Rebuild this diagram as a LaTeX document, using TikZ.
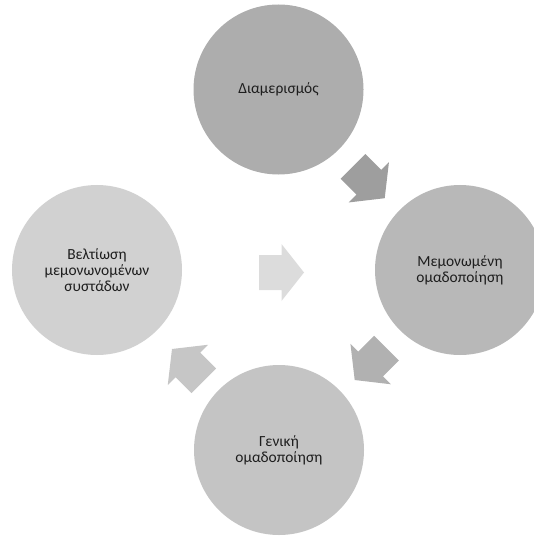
\documentclass[tikz,border=0pt]{standalone}
\usepackage{fontspec}
\setmainfont{Carlito}
\definecolor{ctop}{HTML}{ADADAD}
\definecolor{cright}{HTML}{B8B8B8}
\definecolor{cbottom}{HTML}{C4C4C4}
\definecolor{cleft}{HTML}{D1D1D1}
\definecolor{aone}{HTML}{9E9E9E}
\definecolor{atwo}{HTML}{B1B1B1}
\definecolor{athree}{HTML}{C6C6C6}
\definecolor{afour}{HTML}{DCDCDC}
\definecolor{ink}{HTML}{1E1E1E}
\tikzset{
  stage/.style={circle, draw=none, minimum size=170bp, inner sep=0pt,
    align=center, text=ink, font=\fontsize{15.5}{16.2}\selectfont},
  pics/blockarrow/.style={code={
    \fill[pic actions] (-22.5,-17.5) -- (0,-17.5) -- (0,-28.5) -- (22.5,0)
      -- (0,28.5) -- (0,17.5) -- (-22.5,17.5) -- cycle;}}
}
\begin{document}
\begin{tikzpicture}[x=1bp, y=-1bp]
  \useasboundingbox (0,0) rectangle (534,542);
  \clip (0,0) rectangle (534,542);
  % the four stages of the cycle
  \node[stage, fill=ctop]    (ntop)    at (278.5,89.5) {Διαμερισμός};
  \node[stage, fill=cright]  (nright)  at (460,270)    {Μεμονωμένη\\ομαδοποίηση};
  \node[stage, fill=cbottom] (nbottom) at (279,450)    {Γενική\\ομαδοποίηση};
  \node[stage, fill=cleft]   (nleft)   at (97,270)     {Βελτίωση\\μεμονωνομένων\\συστάδων};
  % block arrows between the stages
  \pic[fill=aone, rotate=-45]    at (368.8,182.3) {blockarrow};
  \pic[fill=atwo, rotate=-135]   at (370.6,364.1) {blockarrow};
  \pic[fill=athree, rotate=135]  at (187.9,364.9) {blockarrow};
  \pic[fill=afour]               at (281.5,272.5) {blockarrow};
\end{tikzpicture}
\end{document}
